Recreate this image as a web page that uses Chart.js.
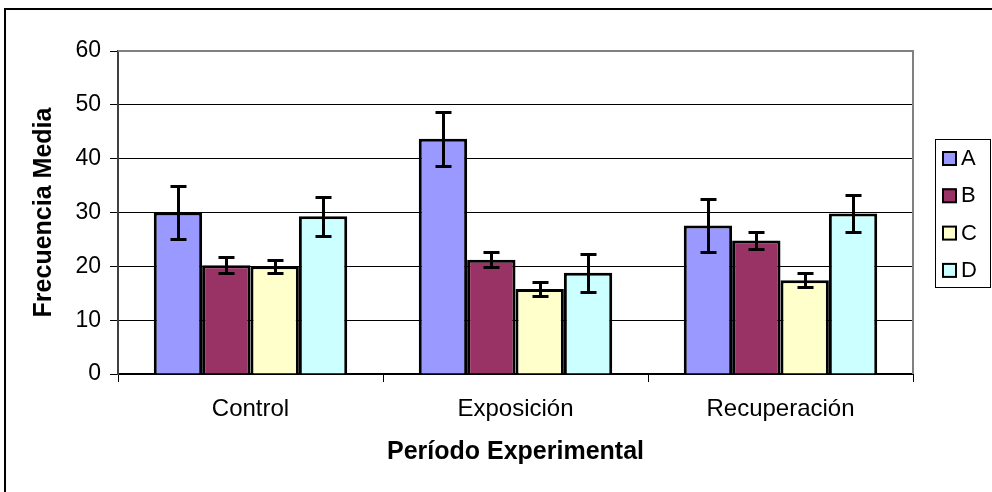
<!DOCTYPE html>
<html>
<head>
<meta charset="utf-8">
<script src="https://cdn.jsdelivr.net/npm/chart.js@4.4.0/dist/chart.umd.min.js"></script>
<style>
  html, body { margin: 0; padding: 0; background: #fff; }
  canvas { display: block; }
</style>
</head>
<body>
<canvas id="myChart" width="992" height="492"></canvas>
<script>
const periods = ["Control", "Exposición", "Recuperación"];
const seriesNames = ["A", "B", "C", "D"];
const valuesA = [30.0, 43.7, 27.6];
const valuesB = [20.2, 21.2, 24.8];
const valuesC = [20.0, 15.8, 17.4];
const valuesD = [29.3, 18.8, 29.8];
const errorsA = [5.0, 5.0, 5.0];
const errorsB = [1.5, 1.4, 1.5];
const errorsC = [1.2, 1.3, 1.3];
const errorsD = [3.6, 3.5, 3.5];
const yTicks = [0, 10, 20, 30, 40, 50, 60];
const colors = ["#9999FF", "#993366", "#FFFFCC", "#CCFFFF"];

const FONT = "'Liberation Sans', Arial, sans-serif";

// error bars (mean +/- error) on top of each bar
const errorBars = {
  id: "errorBars",
  afterDatasetsDraw(chart) {
    const ctx = chart.ctx;
    const y = chart.scales.y;
    ctx.save();
    ctx.strokeStyle = "#000";
    ctx.lineWidth = 3;
    chart.data.datasets.forEach((ds, i) => {
      chart.getDatasetMeta(i).data.forEach((bar, j) => {
        const top = Math.round(y.getPixelForValue(ds.data[j] + ds.errors[j])) + 0.5;
        const bottom = Math.round(y.getPixelForValue(ds.data[j] - ds.errors[j])) + 0.5;
        const x = Math.round(bar.x) + 0.5;
        ctx.beginPath();
        ctx.moveTo(x, top);
        ctx.lineTo(x, bottom);
        ctx.moveTo(x - 8, top);
        ctx.lineTo(x + 8, top);
        ctx.moveTo(x - 8, bottom);
        ctx.lineTo(x + 8, bottom);
        ctx.stroke();
      });
    });
    ctx.restore();
  },
};

// outer frame, grey plot border and boxed legend
const frame = {
  id: "frame",
  beforeDraw(chart) {
    const ctx = chart.ctx;
    ctx.save();
    ctx.fillStyle = "#fff";
    ctx.fillRect(0, 0, chart.width, chart.height);
    ctx.fillStyle = "#000";
    ctx.fillRect(4, 8, chart.width, 2);
    ctx.fillRect(4, 8, 2, chart.height);
    ctx.restore();
  },
  afterDraw(chart) {
    const ctx = chart.ctx;
    const a = chart.chartArea;
    ctx.save();
    ctx.fillStyle = "#808080";
    ctx.fillRect(a.left, a.top - 1, a.right - a.left + 1, 2);
    ctx.fillRect(a.right - 1, a.top - 1, 2, a.bottom - a.top + 1);

    // legend
    ctx.strokeStyle = "#000";
    ctx.lineWidth = 1;
    ctx.strokeRect(935.5, 139.5, 55, 148);
    ctx.font = "22px " + FONT;
    ctx.textBaseline = "middle";
    chart.data.datasets.forEach((ds, i) => {
      const cy = 158 + i * 37.3;
      ctx.fillStyle = ds.backgroundColor;
      ctx.fillRect(942, cy - 7, 14, 14);
      ctx.lineWidth = 2;
      ctx.strokeRect(943, cy - 6, 13, 13);
      ctx.fillStyle = "#000";
      ctx.fillText(ds.label, 961, cy + 1);
    });
    ctx.restore();
  },
};

const seriesValues = [valuesA, valuesB, valuesC, valuesD];
const seriesErrors = [errorsA, errorsB, errorsC, errorsD];

const chart = new Chart(document.getElementById("myChart").getContext("2d"), {
  type: "bar",
  data: {
    labels: periods,
    datasets: seriesNames.map((name, i) => ({
      label: name,
      data: seriesValues[i],
      errors: seriesErrors[i],
      backgroundColor: colors[i],
      borderColor: "#000",
      borderWidth: 3,
      barPercentage: 1,
      categoryPercentage: 0.73,
    })),
  },
  options: {
    responsive: false,
    animation: false,
    devicePixelRatio: 1,
    layout: {
      padding: { left: 0, top: 51, right: 79, bottom: 0 },
    },
    plugins: {
      legend: { display: false },
      tooltip: { enabled: false },
    },
    scales: {
      x: {
        grid: {
          drawOnChartArea: false,
          drawTicks: true,
          tickLength: 8,
          color: "#000",
        },
        border: { color: "#000", width: 2 },
        ticks: {
          color: "#000",
          padding: 13,
          font: { family: FONT, size: 24 },
        },
        title: {
          display: true,
          text: "Período Experimental",
          color: "#000",
          font: { family: FONT, size: 25, weight: "bold" },
          padding: { top: 0, bottom: 25 },
        },
        afterFit: (scale) => {
          scale.height = 118;
        },
      },
      y: {
        min: 0,
        max: 60,
        afterBuildTicks: (scale) => {
          scale.ticks = yTicks.map((v) => ({ value: v }));
        },
        grid: {
          color: "#000",
          lineWidth: 1,
          tickLength: 8,
          tickColor: "#000",
        },
        border: { color: "#404040", width: 2 },
        ticks: {
          color: "#000",
          padding: 9,
          font: { family: FONT, size: 23 },
        },
        title: {
          display: true,
          text: "Frecuencia Media",
          color: "#000",
          font: { family: FONT, size: 25, weight: "bold" },
          padding: { top: 29, bottom: 0 },
        },
        afterFit: (scale) => {
          scale.width = 118;
        },
      },
    },
  },
  plugins: [errorBars, frame],
});
</script>
</body>
</html>
